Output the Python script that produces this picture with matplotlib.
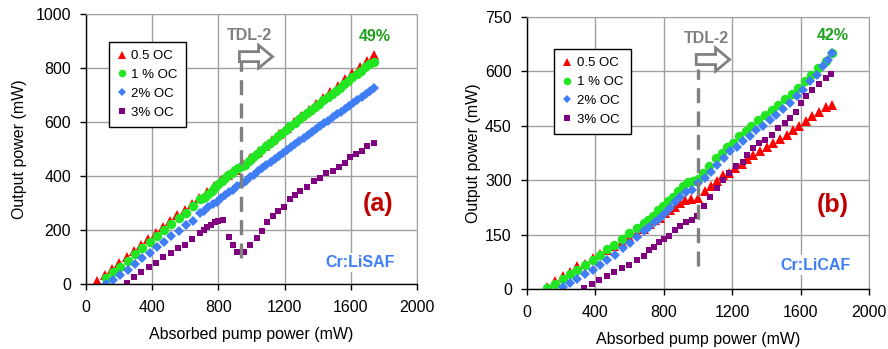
import matplotlib
matplotlib.use('Agg')
import matplotlib.pyplot as plt
from matplotlib.patches import FancyArrow

plt.rcParams['font.family'] = ['Liberation Sans', 'DejaVu Sans']

# ---------------- data, panel (a) Cr:LiSAF ----------------
a_red_x = [69, 113, 157, 201, 245, 289, 333, 377, 421, 465, 509, 553, 597, 641, 685, 729, 773, 817, 861, 905,
           949, 993, 1037, 1081, 1125, 1169, 1213, 1257, 1301, 1345, 1389, 1433, 1477, 1521, 1565, 1609, 1653, 1697, 1741]
a_red_y = [12, 34, 56, 78, 100, 122, 144, 166, 188, 210, 232, 254, 276, 298, 320, 342, 362, 384, 404, 424,
           444, 466, 488, 510, 532, 556, 578, 600, 622, 645, 668, 690, 712, 735, 758, 780, 802, 825, 848]
a_green_x = [121, 165, 208, 252, 296, 340, 384, 428, 472, 516, 560, 604, 648, 690, 705, 720, 740, 760, 780, 800,
             820, 840, 860, 880, 900, 920, 940, 960, 985, 1010, 1035, 1060, 1085, 1110, 1135, 1160, 1185, 1210, 1235, 1260,
             1285, 1310, 1335, 1360, 1385, 1410, 1435, 1460, 1485, 1510, 1535, 1560, 1585, 1610, 1635, 1660, 1685, 1710, 1738]
a_green_y = [22, 43, 62, 87, 110, 132, 155, 178, 200, 221, 243, 264, 290, 316, 318, 323, 335, 345, 358, 372,
             382, 393, 402, 413, 422, 430, 437, 441, 455, 470, 483, 497, 510, 522, 535, 548, 560, 572, 585, 598,
             610, 622, 633, 645, 657, 668, 680, 692, 703, 715, 727, 740, 752, 765, 778, 790, 802, 813, 824]
a_blue_x = [121, 165, 208, 252, 296, 340, 384, 428, 472, 516, 560, 604, 648, 690, 715, 740, 765, 790, 815, 840,
            865, 890, 915, 940, 965, 990, 1015, 1040, 1065, 1090, 1115, 1140, 1165, 1190, 1215, 1240, 1265, 1290, 1315, 1340,
            1365, 1390, 1415, 1440, 1465, 1490, 1515, 1540, 1565, 1590, 1615, 1640, 1665, 1690, 1715, 1740]
a_blue_y = [0, 14, 32, 53, 75, 96, 116, 137, 157, 177, 198, 218, 235, 262, 272, 285, 296, 305, 320, 330,
            340, 350, 362, 372, 383, 395, 405, 418, 430, 440, 452, 462, 475, 485, 497, 508, 520, 530, 540, 552,
            562, 573, 585, 595, 605, 617, 628, 638, 650, 660, 672, 683, 693, 704, 714, 725]
a_purple_x = [246, 290, 335, 379, 423, 468, 512, 554, 599, 643, 690, 714, 734, 756, 780, 800, 827,
              863, 891, 915, 952, 992, 1032, 1063, 1093, 1129, 1163, 1198, 1230, 1264, 1294, 1335, 1375, 1411,
              1452, 1492, 1526, 1567, 1597, 1633, 1667, 1698, 1738]
a_purple_y = [4, 26, 43, 65, 78, 99, 115, 133, 145, 166, 189, 201, 211, 219, 228, 232, 236,
              174, 146, 117, 118, 146, 170, 195, 228, 253, 269, 287, 314, 330, 345, 361, 380, 392,
              411, 417, 435, 448, 470, 482, 494, 512, 522]

# ---------------- data, panel (b) Cr:LiCAF ----------------
b_red_x = [121, 165, 210, 253, 296, 340, 385, 428, 467, 510, 554, 599, 642, 685, 720, 749, 778, 807, 837, 866,
           895, 924, 957, 1002, 1041, 1074, 1109, 1148, 1183, 1216, 1255, 1288, 1323, 1362, 1401, 1440, 1479, 1518, 1556, 1591,
           1630, 1669, 1708, 1747, 1786]
b_red_y = [5, 21, 35, 46, 62, 70, 85, 97, 107, 118, 129, 143, 154, 165, 180, 189, 196, 210, 219, 226,
           237, 246, 248, 251, 269, 283, 297, 315, 320, 334, 346, 358, 370, 380, 393, 403, 414, 426, 438, 449,
           462, 476, 487, 502, 508]
b_green_x = [121, 165, 210, 253, 296, 340, 385, 428, 467, 510, 554, 599, 642, 685, 710, 739, 768, 798, 827, 856,
             885, 914, 944, 973, 1002, 1031, 1066, 1105, 1138, 1171, 1206, 1241, 1280, 1313, 1352, 1391, 1430, 1469, 1508, 1547,
             1586, 1625, 1663, 1702, 1747, 1786]
b_green_y = [3, 15, 28, 40, 51, 67, 81, 95, 110, 122, 138, 154, 168, 182, 191, 200, 217, 228, 242, 255,
             269, 285, 294, 297, 303, 320, 338, 361, 375, 393, 403, 421, 435, 450, 465, 481, 494, 508, 524, 539,
             554, 573, 591, 609, 628, 651]
b_blue_x = [214, 253, 296, 340, 385, 428, 467, 516, 560, 603, 646, 685, 716, 749, 778, 807, 837, 866, 895, 930,
            963, 1002, 1041, 1074, 1113, 1152, 1187, 1226, 1265, 1304, 1342, 1381, 1420, 1459, 1498, 1537, 1576, 1615, 1654, 1693,
            1732, 1760, 1786]
b_blue_y = [5, 17, 28, 40, 53, 67, 81, 95, 113, 127, 143, 159, 171, 184, 196, 210, 223, 239, 255, 267,
            274, 292, 306, 324, 343, 361, 380, 393, 407, 423, 438, 450, 467, 481, 496, 513, 531, 550, 573, 591,
            614, 632, 651]
b_purple_x = [335, 379, 424, 467, 510, 554, 599, 642, 685, 716, 743, 774, 802, 833, 866, 895, 930, 963, 996, 1035,
              1070, 1109, 1144, 1183, 1222, 1261, 1288, 1323, 1358, 1391, 1430, 1469, 1508, 1537, 1572, 1605, 1634, 1669, 1708, 1747,
              1780]
b_purple_y = [3, 15, 24, 37, 46, 58, 65, 79, 92, 107, 116, 129, 138, 147, 162, 173, 184, 189, 200, 228,
              254, 278, 300, 320, 338, 349, 370, 389, 403, 412, 426, 444, 458, 471, 487, 513, 533, 550, 566, 582,
              594]

labels = ['0.5 OC', '1 % OC', '2% OC', '3% OC']
x_ticks = [0, 400, 800, 1200, 1600, 2000]

RED = '#ff0000'
GREEN = '#22e622'
BLUE = '#3f7ef5'
PURPLE = '#800080'
GRID = '#a0a0a0'


def draw_panel(ax, series, ymax, ystep, ylabpad, leg_anchor, tdl_x, dash_y, arrow_y, arrow_len, arrow_w,
               tdl_text_xy, pct, pct_xy, tag, tag_xy, crystal, crystal_xy):
    styles = [('^', RED, 7.6), ('o', GREEN, 6.8), ('D', BLUE, 5.6), ('s', PURPLE, 5.0)]
    for (xs, ys), (m, c, ms), lab in zip(series, styles, labels):
        ax.plot(xs, ys, linestyle='none', marker=m, color=c, markersize=ms,
                markeredgewidth=0, label=lab)

    ax.set_xlim(0, 2000)
    ax.set_ylim(0, ymax)
    ax.set_xticks(x_ticks)
    ax.set_yticks(list(range(0, ymax + 1, ystep)))
    ax.grid(True, color=GRID, linewidth=1.0)
    ax.set_axisbelow(True)
    for s in ['top', 'right']:
        ax.spines[s].set_color(GRID)
    for s in ['left', 'bottom']:
        ax.spines[s].set_color('black')
        ax.spines[s].set_linewidth(1.0)
    ax.tick_params(labelsize=11.5, length=4.3, width=1, direction='out')
    ax.tick_params(axis='x', pad=7)
    ax.tick_params(axis='y', pad=6.5)
    ax.set_xlabel('Absorbed pump power (mW)', fontsize=11.5, labelpad=9)
    ax.set_ylabel('Output power (mW)', fontsize=11.5, labelpad=ylabpad)

    # dashed marker for the TDL-2 regime
    ax.plot([tdl_x, tdl_x], dash_y, color='#808080', linestyle=(0, (4.5, 2.5)), linewidth=2.4, zorder=4)
    head_len = arrow_len * 0.42
    ax.add_patch(FancyArrow(tdl_x - 10, arrow_y, arrow_len, 0, width=arrow_w,
                            head_width=arrow_w * 2.3, head_length=head_len,
                            length_includes_head=True, facecolor='white',
                            edgecolor='#808080', linewidth=2, zorder=5))
    ax.text(tdl_text_xy[0], tdl_text_xy[1], 'TDL-2', color='#808080', fontsize=11.5,
            fontweight='bold', ha='center', va='center')
    ax.text(pct_xy[0], pct_xy[1], pct, color='#1fa01f', fontsize=11.5,
            fontweight='bold', ha='center', va='center')
    ax.text(tag_xy[0], tag_xy[1], tag, color='#c00000', fontsize=18,
            fontweight='bold', ha='center', va='center')
    ax.text(crystal_xy[0], crystal_xy[1], crystal, color=BLUE, fontsize=11.5,
            fontweight='bold', ha='center', va='center',
            bbox=dict(facecolor='white', edgecolor='none', pad=1.5))

    leg = ax.legend(loc='upper left', bbox_to_anchor=leg_anchor, fontsize=9.5,
                    frameon=True, fancybox=False, framealpha=1, edgecolor='black',
                    handlelength=0.8, handletextpad=0.3, borderpad=0.6,
                    labelspacing=0.5, borderaxespad=0, markerscale=0.8)
    leg.get_frame().set_linewidth(1.0)


fig = plt.figure(figsize=(8.88, 3.49), dpi=100)
ax1 = fig.add_axes([0.0968, 0.186, 0.3728, 0.774])
ax2 = fig.add_axes([0.5932, 0.172, 0.3855, 0.779])

draw_panel(ax1,
           [(a_red_x, a_red_y), (a_green_x, a_green_y), (a_blue_x, a_blue_y), (a_purple_x, a_purple_y)],
           1000, 200, 6, (0.069, 0.896), 937, [96, 826], 842, 200, 37,
           (990, 921), '49%', (1746, 918), '(a)', (1766, 296), 'Cr:LiSAF', (1655, 80))

draw_panel(ax2,
           [(b_red_x, b_red_y), (b_green_x, b_green_y), (b_blue_x, b_blue_y), (b_purple_x, b_purple_y)],
           750, 150, 3, (0.08, 0.882), 1000, [62, 608], 633, 195, 28,
           (1050, 691), '42%', (1788, 700), '(b)', (1788, 232), 'Cr:LiCAF', (1685, 66))

fig.savefig('out.png', dpi=100)
